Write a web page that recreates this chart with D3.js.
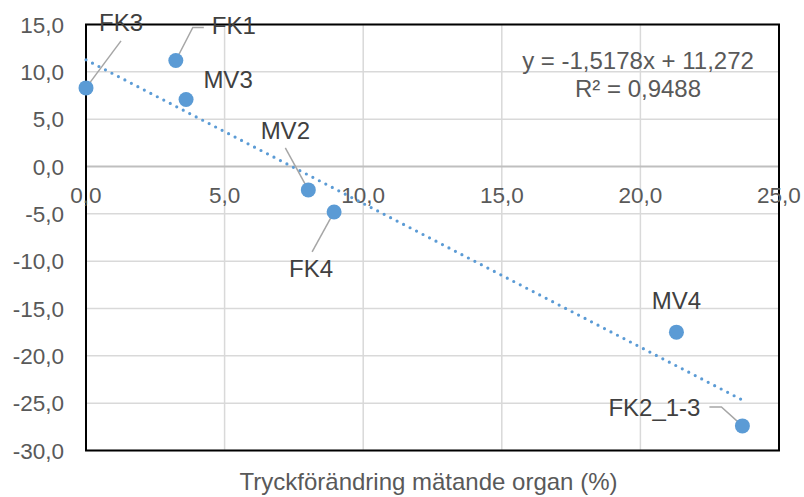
<!DOCTYPE html>
<html>
<head>
<meta charset="utf-8">
<script src="https://cdn.jsdelivr.net/npm/d3@7"></script>
<style>
  body { margin: 0; background: #fff; }
  text { font-family: "Liberation Sans", Arial, sans-serif; }
</style>
</head>
<body>
<script>
// Data
const names = ["FK3", "FK1", "MV3", "MV2", "FK4", "MV4", "FK2_1-3"];
const xValues = [0.0, 3.24, 3.61, 8.02, 8.95, 21.3, 23.68];
const yValues = [8.3, 11.2, 7.07, -2.47, -4.8, -17.5, -27.4];
const xTicks = [0, 5, 10, 15, 20, 25];
const yTicks = [15, 10, 5, 0, -5, -10, -15, -20, -25, -30];
const slope = -1.5178;
const intercept = 11.272;
const r2 = 0.9488;
const xTitle = "Tryckförändring mätande organ (%)";

// label placement (pixel offsets from the point) and leader lines
const labelLayout = {
  "FK3":     { dx: 35,  dy: -57, leader: [[35, -47], [0, 0]] },
  "FK1":     { dx: 58,  dy: -26, leader: [[28, -33], [17, -33], [0, 0]] },
  "MV3":     { dx: 42,  dy: -12 },
  "MV2":     { dx: -23, dy: -51, leader: [[-23, -42], [0, 0]] },
  "FK4":     { dx: -23, dy: 65,  leader: [[-22, 40], [0, 0]] },
  "MV4":     { dx: 0,   dy: -23 },
  "FK2_1-3": { dx: -88, dy: -10, leader: [[-33, -19], [-21, -19], [0, 0]] }
};

const width = 804;
const height = 497;
const margin = { left: 86, right: 25, top: 24.5, bottom: 46.5 };

const locale = d3.formatLocale({ decimal: ",", thousands: " ", grouping: [3], currency: ["", ""], minus: "-" });
const fmt1 = locale.format(".1f");

const x = d3.scaleLinear().domain([0, 25]).range([margin.left, width - margin.right]);
const y = d3.scaleLinear().domain([-30, 15]).range([height - margin.bottom, margin.top]);

const svg = d3.select("body")
  .append("svg")
  .attr("width", width)
  .attr("height", height);

// Gridlines
svg.append("g")
  .selectAll("line")
  .data(yTicks.filter(d => d !== 0))
  .enter()
  .append("line")
  .attr("x1", x(0)).attr("x2", x(25))
  .attr("y1", d => y(d)).attr("y2", d => y(d))
  .attr("stroke", "#d9d9d9")
  .attr("stroke-width", 1.5);

svg.append("g")
  .selectAll("line")
  .data(xTicks)
  .enter()
  .append("line")
  .attr("x1", d => x(d)).attr("x2", d => x(d))
  .attr("y1", y(15)).attr("y2", y(-30))
  .attr("stroke", "#d9d9d9")
  .attr("stroke-width", 1.5);

// Horizontal axis line at y = 0
svg.append("line")
  .attr("x1", x(0)).attr("x2", x(25))
  .attr("y1", y(0)).attr("y2", y(0))
  .attr("stroke", "#bfbfbf")
  .attr("stroke-width", 2);

// Plot area border
svg.append("rect")
  .attr("x", x(0))
  .attr("y", y(15))
  .attr("width", x(25) - x(0))
  .attr("height", y(-30) - y(15))
  .attr("fill", "none")
  .attr("stroke", "#000")
  .attr("stroke-width", 2);

// Y axis labels
svg.append("g")
  .selectAll("text")
  .data(yTicks)
  .enter()
  .append("text")
  .attr("x", x(0) - 22)
  .attr("y", d => y(d))
  .attr("dy", "0.36em")
  .attr("text-anchor", "end")
  .attr("font-size", 22.5)
  .attr("fill", "#595959")
  .text(d => fmt1(d));

// X axis labels (below the zero line)
svg.append("g")
  .selectAll("text")
  .data(xTicks)
  .enter()
  .append("text")
  .attr("x", d => x(d))
  .attr("y", y(0) + 36)
  .attr("text-anchor", "middle")
  .attr("font-size", 22.5)
  .attr("fill", "#595959")
  .text(d => fmt1(d));

// Axis title
svg.append("text")
  .attr("x", (x(0) + x(25)) / 2 - 4)
  .attr("y", height - 7)
  .attr("text-anchor", "middle")
  .attr("font-size", 24)
  .attr("fill", "#595959")
  .text(xTitle);

// Trendline
const xMin = d3.min(xValues), xMax = d3.max(xValues);
svg.append("line")
  .attr("x1", x(xMin)).attr("y1", y(slope * xMin + intercept))
  .attr("x2", x(xMax)).attr("y2", y(slope * xMax + intercept))
  .attr("stroke", "#5b9bd5")
  .attr("stroke-width", 3.2)
  .attr("stroke-linecap", "round")
  .attr("stroke-dasharray", "0 7.3");

// Equation
svg.append("text")
  .attr("x", 638)
  .attr("y", 69)
  .attr("text-anchor", "middle")
  .attr("font-size", 24)
  .attr("fill", "#595959")
  .text("y = " + locale.format(".4f")(slope) + "x + " + locale.format(".3f")(intercept));

svg.append("text")
  .attr("x", 638)
  .attr("y", 97)
  .attr("text-anchor", "middle")
  .attr("font-size", 24)
  .attr("fill", "#595959")
  .text("R² = " + locale.format(".4f")(r2));

const points = names.map((n, i) => ({ name: n, x: xValues[i], y: yValues[i] }));

// Leader lines
svg.append("g")
  .selectAll("polyline")
  .data(points.filter(d => labelLayout[d.name].leader))
  .enter()
  .append("polyline")
  .attr("points", d => labelLayout[d.name].leader
    .map(p => (x(d.x) + p[0]) + "," + (y(d.y) + p[1])).join(" "))
  .attr("fill", "none")
  .attr("stroke", "#a6a6a6")
  .attr("stroke-width", 1.5);

// Points
svg.append("g")
  .selectAll("circle")
  .data(points)
  .enter()
  .append("circle")
  .attr("cx", d => x(d.x))
  .attr("cy", d => y(d.y))
  .attr("r", 7.5)
  .attr("fill", "#5b9bd5");

// Data labels
svg.append("g")
  .selectAll("text")
  .data(points)
  .enter()
  .append("text")
  .attr("x", d => x(d.x) + labelLayout[d.name].dx)
  .attr("y", d => y(d.y) + labelLayout[d.name].dy)
  .attr("text-anchor", "middle")
  .attr("font-size", 24)
  .attr("fill", "#404040")
  .text(d => d.name);
</script>
</body>
</html>
